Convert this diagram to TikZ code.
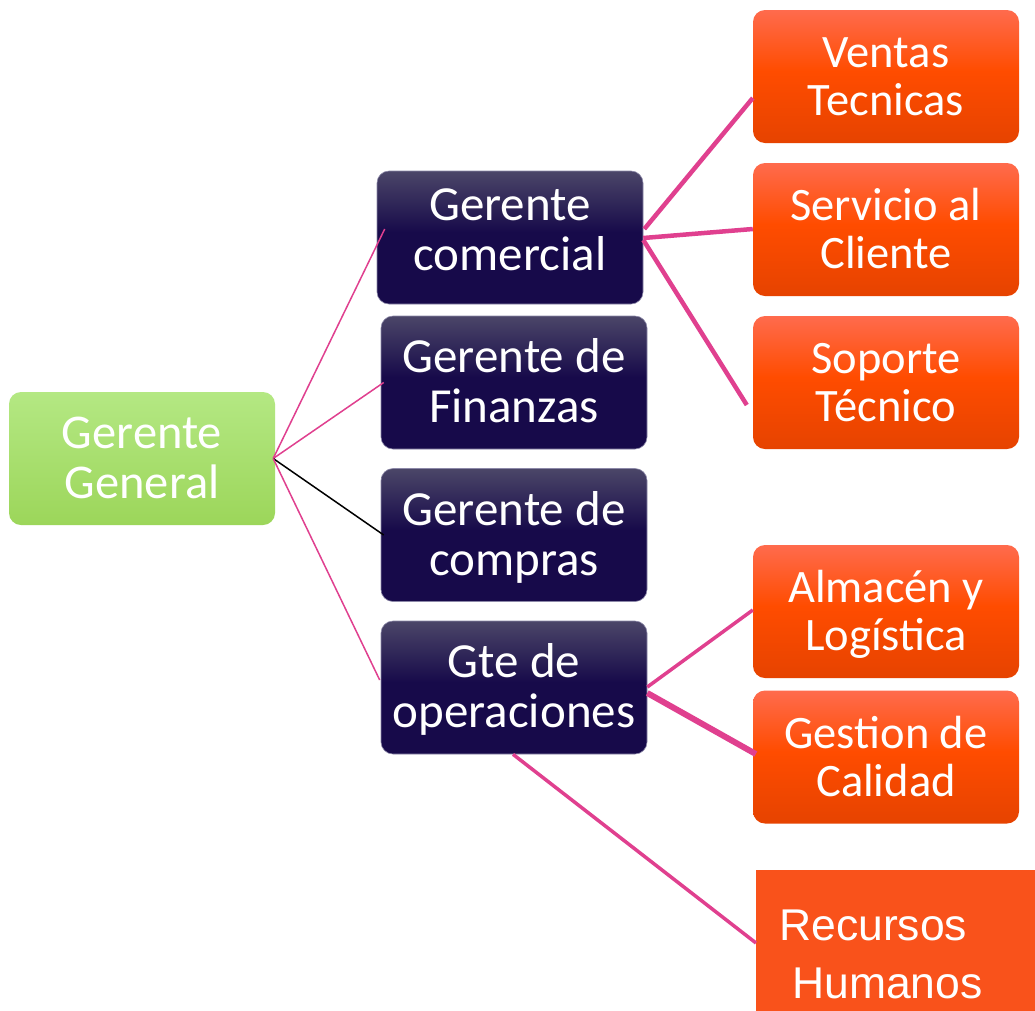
\documentclass[tikz,border=0pt]{standalone}
\usepackage{fontspec}
\setmainfont{Carlito}
\newfontfamily\arialf{Liberation Sans}
\definecolor{gT}{HTML}{B4E883}
\definecolor{gB}{HTML}{9CD65A}
\definecolor{navyT}{HTML}{4B4668}
\definecolor{navyB}{HTML}{170A4A}
\definecolor{oT}{HTML}{FF6B4D}
\definecolor{oM}{HTML}{FF4C00}
\definecolor{oB}{HTML}{E64300}
\definecolor{rhfill}{HTML}{F9521B}
\definecolor{linkpink}{HTML}{E0408F}
\definecolor{rimc}{HTML}{8C88A8}
\pgfdeclareverticalshading{greensh}{100bp}{color(0bp)=(gB); color(25bp)=(gB); color(75bp)=(gT); color(100bp)=(gT)}
\pgfdeclareverticalshading{navysh}{100bp}{color(0bp)=(navyB); color(25bp)=(navyB); color(52bp)=(navyB); color(75bp)=(navyT); color(100bp)=(navyT)}
\pgfdeclareverticalshading{orangesh}{100bp}{color(0bp)=(oB); color(25bp)=(oB); color(52bp)=(oM); color(75bp)=(oT); color(100bp)=(oT)}
\newcommand\mytop{\rule{0pt}{42pt}}
\newcommand\mybot[1][12pt]{\rule[-#1]{0pt}{#1}}
\tikzset{
  box/.style={rounded corners=12pt, minimum width=266pt, minimum height=133pt,
    inner sep=0pt, align=center, text=white},
  greenbox/.style={box, shade, shading=greensh, font=\fontsize{48.5}{50}\selectfont},
  navybox/.style={box, shade, shading=navysh, draw=rimc, line width=0.6pt, font=\fontsize{49}{50}\selectfont},
  orangebox/.style={box, shade, shading=orangesh, font=\fontsize{46.5}{48}\selectfont},
  rhbox/.style={fill=rhfill, minimum width=300pt, minimum height=160pt, inner sep=0pt},
  rhtext/.style={inner sep=0pt, align=left, text=white, font=\arialf\fontsize{44.5}{58}\selectfont},
  thinlink/.style={draw=linkpink, line width=1.5pt},
  blacklink/.style={draw=black, line width=1.5pt},
  thicklink/.style={draw=linkpink, line width=4.5pt},
  midlink/.style={draw=linkpink, line width=3.5pt},
  heavylink/.style={draw=linkpink, line width=6pt}
}
\begin{document}
\begin{tikzpicture}[x=1pt,y=-1pt]
\useasboundingbox[fill=white] (0,0) rectangle (1035,1010);
% boxes
\node[greenbox] (gg) at (142,458.5) {\mytop Gerente\\General\mybot};
\node[navybox] (com) at (510,237.5) {\mytop Gerente\\comercial\mybot[26pt]};
\node[navybox] (fin) at (514,382.5) {\mytop Gerente de\\Finanzas\mybot};
\node[navybox] (comp) at (514,535) {\mytop Gerente de\\compras\mybot};
\node[navybox] (oper) at (514,687.5) {\mytop Gte de\\operaciones\mybot};
\node[orangebox] (ven) at (886,76.5) {\mytop Ventas\\Tecnicas\mybot};
\node[orangebox] (ser) at (886,229.5) {\mytop Servicio al\\Cliente\mybot};
\node[orangebox] (sop) at (886,382.5) {\mytop Soporte\\Técnico\mybot};
\node[orangebox] (alm) at (886,611.5) {\mytop Almacén y\\Logística\mybot};
\node[orangebox] (ges) at (886,757) {\mytop Gestion de\\Calidad\mybot};
\node[rhbox, anchor=north west] (rh) at (756,870) {};
\node[rhtext, anchor=north west] (rht) at (779,900) {\rule{0pt}{40pt}Recursos\\\hspace*{13pt}Humanos};
% connectors
\coordinate (ggout) at ([xshift=-2pt]gg.east);
\draw[thinlink] (ggout) -- ([shift={(8,-8.5)}]com.west);
\draw[thinlink] (ggout) -- ([shift={(3,0)}]fin.west);
\draw[blacklink] (ggout) -- ([shift={(3,0)}]comp.west);
\draw[thinlink] (ggout) -- ([shift={(-1,-7.5)}]oper.west);
\draw[thicklink] ([shift={(1,-8.5)}]com.east) -- ([shift={(0,21.5)}]ven.west);
\draw[thicklink] ([shift={(0,0.5)}]com.east) -- ([shift={(0,-0.5)}]ser.west);
\draw[thicklink] ([shift={(0,2.5)}]com.east) -- ([shift={(-6,22.5)}]sop.west);
\draw[midlink] ([shift={(0,-0.5)}]oper.east) -- ([shift={(0,-1.5)}]alm.west);
\draw[heavylink] ([shift={(0,5.5)}]oper.east) -- ([shift={(3,-3)}]ges.west);
\draw[midlink] ([shift={(-1,0)}]oper.south) -- ([shift={(0,73)}]rh.north west);
\end{tikzpicture}
\end{document}
